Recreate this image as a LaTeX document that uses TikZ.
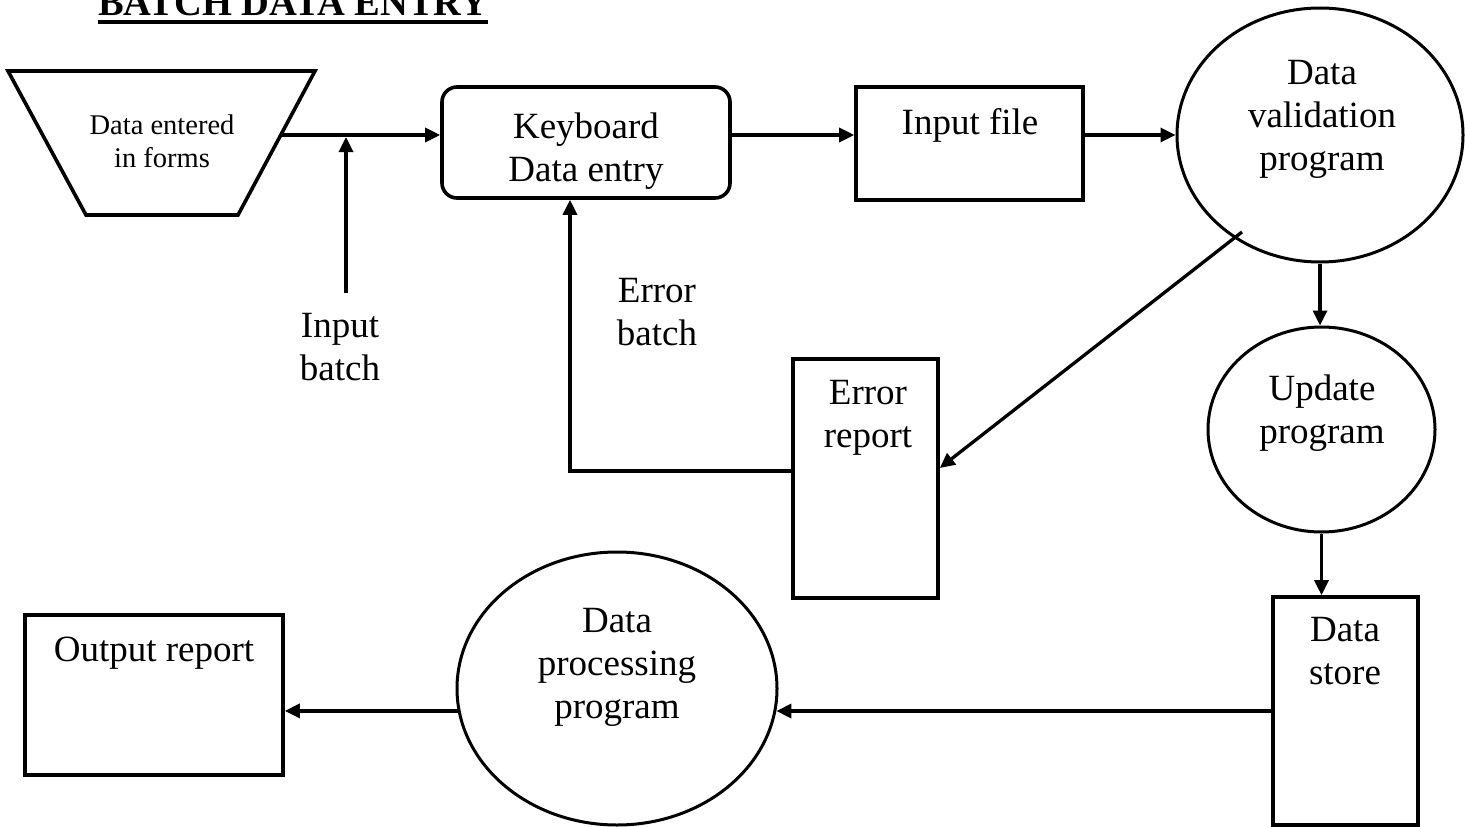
\documentclass[tikz,border=0pt]{standalone}
\usepackage{fontspec}
\setmainfont{Liberation Serif}
\usetikzlibrary{arrows.meta,shapes.geometric}
\begin{document}
\begin{tikzpicture}[x=1pt,y=-1pt,
  arr/.style={line width=3.3pt,-{Triangle[length=15pt,width=14pt]}},
  bigtxt/.style={font=\fontsize{37}{43}\selectfont, align=center, inner sep=0pt, anchor=north},
  smalltxt/.style={font=\fontsize{28.5}{33}\selectfont, align=center, inner sep=0pt, anchor=north},
  boxs/.style={draw, line width=3.6pt, rectangle, inner sep=0pt},
  ell/.style={draw, line width=3pt, ellipse, inner sep=0pt},
]
\useasboundingbox (0,0) rectangle (1465,827);

% title
\node[font=\bfseries\fontsize{38.5}{44}\selectfont, inner sep=0pt, anchor=base west] (title) at (98,15) {BATCH DATA ENTRY};
\draw[line width=3.3pt] ([yshift=-7pt]title.base west) -- ([yshift=-7pt]title.base east);

% forms (trapezoid)
\draw[line width=3.6pt, line join=miter] (8,71) -- (315,71) -- (238,215) -- (86,215) -- cycle;
\coordinate (formout) at (281,135);
\node[smalltxt] (formtxt) at (162,115) {Data entered\\in forms};

% shapes
\node[boxs, minimum width=288, minimum height=111, rounded corners=15pt] (kb) at (586,142.5) {};
\node[boxs, minimum width=227, minimum height=113] (inf) at (969.5,143.5) {};
\node[ell, minimum width=286, minimum height=254] (val) at (1320,135) {};
\node[ell, minimum width=227, minimum height=205] (upd) at (1321.5,429.5) {};
\node[boxs, minimum width=145, minimum height=228] (ds) at (1345.5,711) {};
\node[ell, minimum width=320, minimum height=273] (dp) at (617,688.5) {};
\node[boxs, minimum width=258, minimum height=160] (out) at (154,695) {};
\node[boxs, minimum width=145, minimum height=239] (er) at (865.5,478.5) {};

% texts
\node[bigtxt] (kbtxt) at (586,113) {Keyboard\\Data entry};
\node[bigtxt] (inftxt) at (970,108) {Input file};
\node[bigtxt] (valtxt) at (1322,60) {Data\\validation\\program};
\node[bigtxt] (ibtxt) at (340,313) {Input\\batch};
\node[bigtxt] (ebtxt) at (657,278) {Error\\batch};
\node[bigtxt] (ertxt) at (868,380) {Error\\report};
\node[bigtxt] (updtxt) at (1322,375) {Update\\program};
\node[bigtxt] (dstxt) at (1345,617) {Data\\store};
\node[bigtxt] (dptxt) at (617,608) {Data\\processing\\program};
\node[bigtxt] (outtxt) at (154,637) {Output report};

% connectors
\draw[arr] (formout) -- (formout -| kb.west);
\coordinate (ibstart) at (346,293);
\coordinate (ibend) at (346,137);
\draw[arr] (ibstart) -- (ibend);
\draw[arr] ([yshift=7.5pt]kb.east) -- ([yshift=7.5pt]kb.east -| inf.west);
\draw[arr] (val.west -| inf.east) -- (val.west);
\draw[arr] (val.south) -- (val.south |- upd.north);
\draw[arr] (upd.south) -- (upd.south |- ds.north);
\draw[arr] (ds.west) -- (ds.west -| dp.-8.3);
\draw[arr] (dp.188.3) -- (dp.188.3 -| out.east);
\coordinate (vdiag) at (1242,232);
\draw[arr] (vdiag) -- ([yshift=10.5pt]er.east);
\draw[arr] ([yshift=7.5pt]er.west) -| ([xshift=-16pt]kb.south);
\end{tikzpicture}
\end{document}
